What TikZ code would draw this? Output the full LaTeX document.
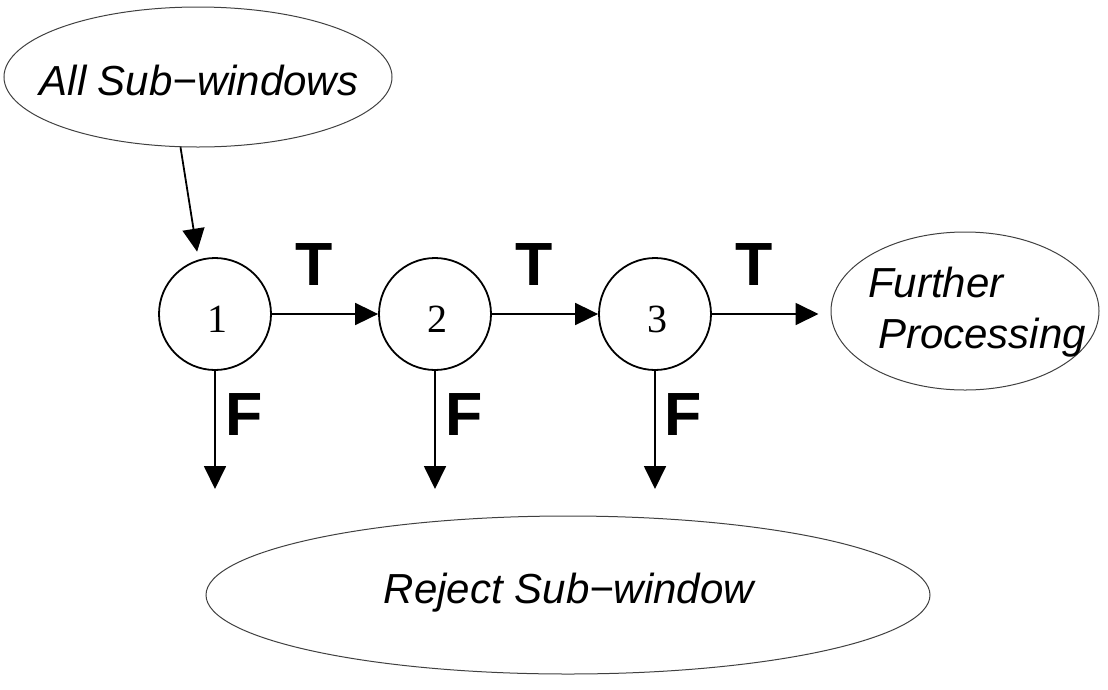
\documentclass[tikz,border=0pt]{standalone}
\usepackage{fontspec}
\setmainfont{Liberation Sans}
\newfontfamily\serifdigits{Liberation Serif}
\usetikzlibrary{arrows.meta,shapes.geometric}
\begin{document}
\begin{tikzpicture}[x=1pt,y=-1pt,
  stage/.style={circle,draw,line width=1.8pt,minimum size=112pt,inner sep=0pt},
  blob/.style={ellipse,draw=black!75,line width=1pt,inner sep=0pt},
  arr/.style={line width=1.8pt,-{Triangle[length=23pt,width=22pt]}},
  itext/.style={font=\fontsize{42}{51}\selectfont\itshape,inner sep=0pt},
  lbl/.style={font=\fontsize{61}{61}\selectfont\bfseries,inner sep=0pt},
  digit/.style={font=\fontsize{40}{40}\selectfont\serifdigits,inner sep=0pt}]
\useasboundingbox (0,0) rectangle (1108,689);
% ellipses
\node[blob,minimum width=388pt,minimum height=140pt] (A) at (198,77) {};
\node[itext,anchor=base] (At) at (199,95) {All Sub−windows};
\node[blob,minimum width=268pt,minimum height=158pt] (FP) at (965,311) {};
\node[itext,anchor=base west] (fp1) at (868,297) {Further};
\node[itext,anchor=base west] (fp2) at (878,348) {Processing};
\node[blob,minimum width=724pt,minimum height=158pt] (R) at (568,595) {};
\node[itext,anchor=base] (Rt) at (569,603) {Reject Sub−window};
% stages
\node[stage] (c1) at (215,314) {};
\node[stage] (c2) at (435,314) {};
\node[stage] (c3) at (655,314) {};
\node[digit] (n1) at (217,319) {1};
\node[digit] (n2) at (437,319) {2};
\node[digit] (n3) at (657,319) {3};
% connectors
\draw[arr,shorten >=8pt] (A.256) -- (c1.107);
\draw[arr] (c1.east) -- (c2.west);
\draw[arr] (c2.east) -- (c3.west);
\draw[arr,shorten >=12pt] (c3.east) -- (c3.east -| FP.west);
\coordinate (d1) at (215,489);
\coordinate (d2) at (435,489);
\coordinate (d3) at (655,489);
\draw[arr] (c1.south) -- (d1);
\draw[arr] (c2.south) -- (d2);
\draw[arr] (c3.south) -- (d3);
% labels
\node[lbl] (t1) at (314,265) {T};
\node[lbl] (t2) at (534,265) {T};
\node[lbl] (t3) at (754,265) {T};
\node[lbl] (f1) at (244,415) {F};
\node[lbl] (f2) at (464,415) {F};
\node[lbl] (f3) at (683,415) {F};
\end{tikzpicture}
\end{document}
